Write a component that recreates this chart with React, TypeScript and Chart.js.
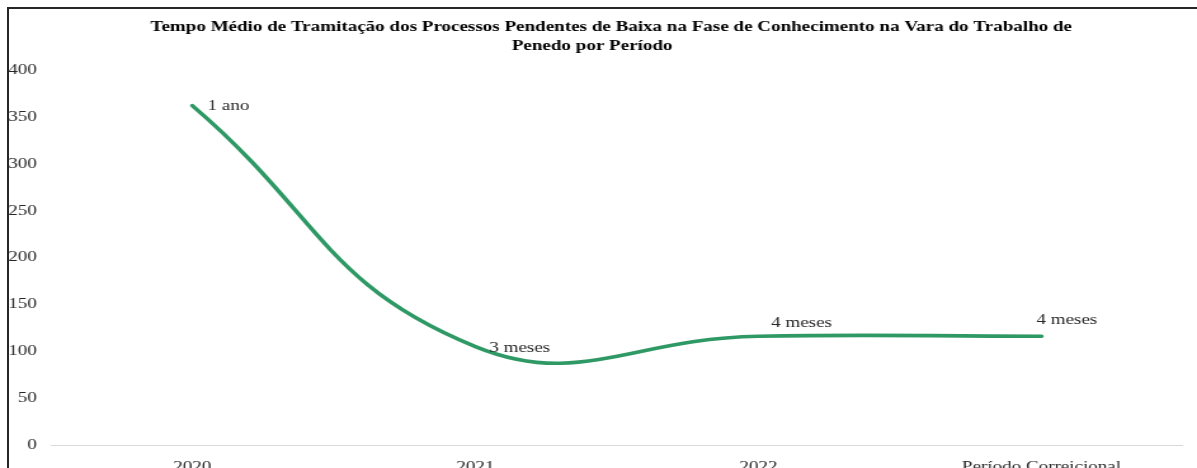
import React, { useEffect, useRef } from "react";
import { Chart, registerables } from "chart.js";

Chart.register(...registerables);

const categories = ["2020", "2021", "2022", "Período Correicional"];
const values = [362, 105, 116, 116];
const pointLabels = ["1 ano", "3 meses", "4 meses", "4 meses"];
const yTicks = [0, 50, 100, 150, 200, 250, 300, 350, 400];
const titleLines = [
  "Tempo Médio de Tramitação dos Processos Pendentes de Baixa na Fase de Conhecimento na Vara do Trabalho de",
  "Penedo por Período",
];

// label placement offsets (internal canvas px) relative to each point
const labelOffsets = [
  { dx: 12, dy: 0 },
  { dx: 11, dy: 1 },
  { dx: 10, dy: -13 },
  { dx: -4, dy: -16 },
];
// title line placement: horizontal shift of centre and middle y (internal px)
const titleLayout = [
  { dx: 10, y: 27 },
  { dx: -5, y: 46 },
];

const DISPLAY_W = 1197;
const STRETCH = 1.27;
const CANVAS_W = Math.round(DISPLAY_W / STRETCH);
const CANVAS_H = 485;
const FONT = "'Liberation Serif', 'Times New Roman', serif";

const labelPlugin = {
  id: "pointLabels",
  afterDatasetsDraw(chart: any) {
    const meta = chart.getDatasetMeta(0);
    const ctx = chart.ctx;
    ctx.save();
    ctx.font = `15px ${FONT}`;
    ctx.fillStyle = "#262626";
    ctx.textAlign = "left";
    ctx.textBaseline = "middle";
    meta.data.forEach((pt: any, i: number) => {
      const off = labelOffsets[i];
      ctx.fillText(pointLabels[i], pt.x + off.dx, pt.y + off.dy);
    });
    ctx.restore();
  },
};

const titlePlugin = {
  id: "customTitle",
  afterDraw(chart: any) {
    const ctx = chart.ctx;
    ctx.save();
    ctx.font = `bold 15px ${FONT}`;
    ctx.fillStyle = "#000000";
    ctx.textAlign = "center";
    ctx.textBaseline = "middle";
    const cx = chart.width / 2;
    titleLines.forEach((line, i) => {
      ctx.fillText(line, cx + titleLayout[i].dx, titleLayout[i].y);
    });
    ctx.restore();
  },
};

export default function App() {
  const ref = useRef<HTMLCanvasElement>(null);
  useEffect(() => {
    if (!ref.current) return;
    const chart = new Chart(ref.current, {
      type: "line",
      data: {
        labels: categories,
        datasets: [
          {
            data: values,
            borderColor: "#2F9965",
            borderWidth: 3.6,
            borderCapStyle: "round",
            borderJoinStyle: "round",
            pointRadius: 0,
            pointHoverRadius: 0,
            tension: 0.45,
            fill: false,
          },
        ],
      },
      options: {
        responsive: false,
        animation: false,
        devicePixelRatio: 1,
        layout: { padding: { top: 70, left: 0, right: 11, bottom: 0 } },
        plugins: {
          legend: { display: false },
          tooltip: { enabled: false },
          title: { display: false },
        },
        scales: {
          x: {
            offset: true,
            grid: { display: false, drawTicks: false },
            border: { display: false },
            ticks: {
              color: "#262626",
              font: { family: FONT, size: 15 },
              padding: 13,
              maxRotation: 0,
              autoSkip: false,
            },
            afterFit(scale: any) {
              scale.height = 40;
            },
          },
          y: {
            min: 0,
            max: 400,
            afterBuildTicks(scale: any) {
              scale.ticks = yTicks.map((v) => ({ value: v }));
            },
            grid: {
              drawTicks: false,
              color: (c: any) => (c.tick && c.tick.value === 0 ? "#d9d9d9" : "rgba(0,0,0,0)"),
              lineWidth: 1,
            },
            border: { display: false },
            ticks: {
              color: "#262626",
              font: { family: FONT, size: 15 },
              padding: 11,
            },
            afterFit(scale: any) {
              scale.width = 40;
            },
          },
        },
      },
      plugins: [labelPlugin, titlePlugin],
    });
    return () => chart.destroy();
  }, []);

  return (
    <div
      style={{
        position: "absolute",
        left: 0,
        top: 0,
        width: DISPLAY_W,
        height: 468,
        overflow: "hidden",
        background: "#ffffff",
      }}
    >
      <canvas
        ref={ref}
        width={CANVAS_W}
        height={CANVAS_H}
        style={{
          position: "absolute",
          left: 0,
          top: 0,
          width: `${DISPLAY_W}px`,
          height: `${CANVAS_H}px`,
        }}
      />
      <div
        style={{
          position: "absolute",
          left: 7,
          top: 7,
          width: 1400,
          height: 700,
          borderTop: "2px solid #262626",
          borderLeft: "2px solid #262626",
          pointerEvents: "none",
        }}
      />
    </div>
  );
}
